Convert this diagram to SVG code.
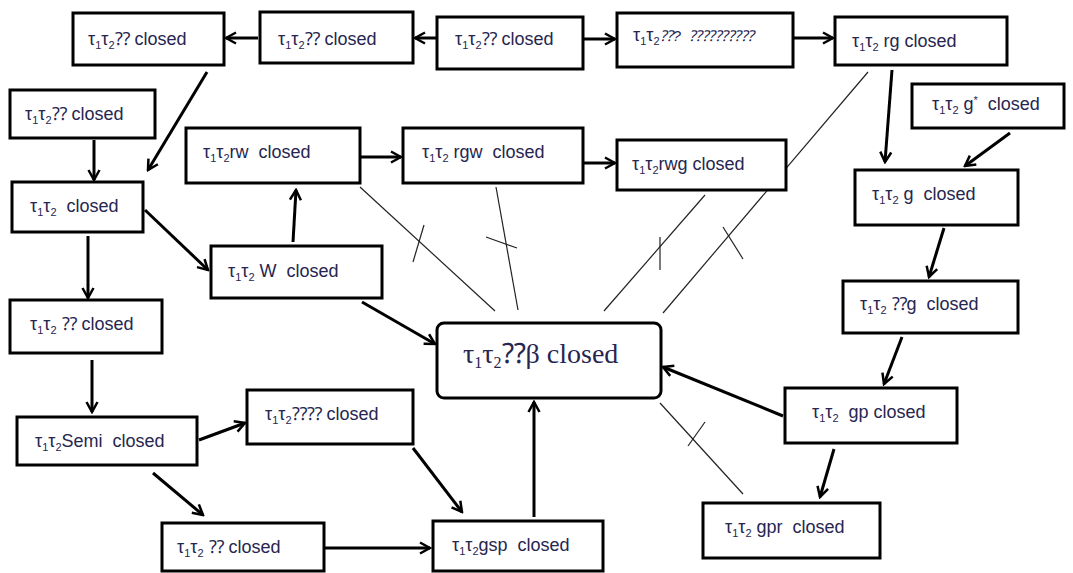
<svg xmlns="http://www.w3.org/2000/svg" width="1073" height="573" viewBox="0 0 1073 573">
<style>
.box{fill:#fff;stroke:#000;stroke-width:3}
.lbl{font-family:"Liberation Sans",Arial,sans-serif;font-size:18px;fill:#262650}
.sub{font-size:11px}
.big{font-family:"Liberation Serif","Times New Roman",serif;font-size:28px;fill:#262650}
.arr{stroke:#000;stroke-width:3;fill:none;marker-end:url(#ah)}
.thin{stroke:#222;stroke-width:1.2;fill:none}
</style>
<defs>
<marker id="ah" viewBox="0 0 14 14" refX="12" refY="7" markerWidth="14" markerHeight="14" markerUnits="userSpaceOnUse" orient="auto">
<path d="M2,1.5 L12,7 L2,12.5" fill="none" stroke="#000" stroke-width="2.5"/>
</marker>
</defs>
<rect width="1073" height="573" fill="#fff"/>

<g id="connectors">
<line class="arr" x1="258" y1="38" x2="226" y2="38"/>
<line class="arr" x1="437" y1="38" x2="415" y2="38"/>
<line class="arr" x1="583" y1="39" x2="615" y2="39"/>
<line class="arr" x1="793" y1="38" x2="833" y2="38"/>
<line class="arr" x1="207" y1="72" x2="148" y2="170"/>
<line class="arr" x1="94" y1="140" x2="94" y2="180"/>
<line class="arr" x1="145" y1="210" x2="208" y2="270"/>
<line class="arr" x1="88" y1="236" x2="88" y2="298"/>
<line class="arr" x1="293" y1="242" x2="296" y2="190"/>
<line class="arr" x1="360" y1="157" x2="401" y2="157"/>
<line class="arr" x1="583" y1="163" x2="615" y2="163"/>
<line class="arr" x1="892" y1="70" x2="885" y2="162"/>
<line class="arr" x1="1010" y1="133" x2="965" y2="166"/>
<line class="arr" x1="944" y1="228" x2="929" y2="277"/>
<line class="arr" x1="902" y1="337" x2="884" y2="384"/>
<line class="arr" x1="783" y1="416" x2="663" y2="367"/>
<line class="arr" x1="834" y1="449" x2="820" y2="497"/>
<line class="arr" x1="362" y1="302" x2="435" y2="344"/>
<line class="arr" x1="92" y1="360" x2="92" y2="412"/>
<line class="arr" x1="199" y1="440" x2="245" y2="423"/>
<line class="arr" x1="153" y1="473" x2="203" y2="515"/>
<line class="arr" x1="413" y1="448" x2="462" y2="512"/>
<line class="arr" x1="324" y1="548" x2="430" y2="548"/>
<line class="arr" x1="534" y1="517" x2="534" y2="402"/>

<line class="thin" x1="360" y1="187" x2="495" y2="311"/>
<line class="thin" x1="413" y1="262" x2="424" y2="225"/>
<line class="thin" x1="496" y1="187" x2="518" y2="310"/>
<line class="thin" x1="486" y1="237" x2="517" y2="248"/>
<line class="thin" x1="705" y1="195" x2="604" y2="311"/>
<line class="thin" x1="660" y1="237" x2="660" y2="270"/>
<line class="thin" x1="868" y1="72" x2="663" y2="313"/>
<line class="thin" x1="723" y1="227" x2="743" y2="259"/>
<line class="thin" x1="660" y1="403" x2="743" y2="494"/>
<line class="thin" x1="688" y1="446" x2="705" y2="422"/>
</g>

<g id="n1"><rect class="box" x="73" y="13" width="151" height="52"/>
<text class="lbl" x="88" y="45">τ<tspan class="sub" dy="4">1</tspan><tspan dy="-4">τ</tspan><tspan class="sub" dy="4">2</tspan><tspan dy="-4">⁇ closed</tspan></text></g>
<g id="n2"><rect class="box" x="260" y="12" width="153" height="51"/>
<text class="lbl" x="278" y="45">τ<tspan class="sub" dy="4">1</tspan><tspan dy="-4">τ</tspan><tspan class="sub" dy="4">2</tspan><tspan dy="-4">⁇ closed</tspan></text></g>
<g id="n3"><rect class="box" x="437" y="17" width="146" height="52"/>
<text class="lbl" x="455" y="45">τ<tspan class="sub" dy="4">1</tspan><tspan dy="-4">τ</tspan><tspan class="sub" dy="4">2</tspan><tspan dy="-4">⁇ closed</tspan></text></g>
<g id="n4"><rect class="box" x="617" y="13" width="176" height="54"/>
<text class="lbl" x="633" y="41">τ<tspan class="sub" dy="4">1</tspan><tspan dy="-4">τ</tspan><tspan class="sub" dy="4">2</tspan><tspan dy="-4" font-size="15" font-style="italic">⁇? &#160;⁇⁇⁇⁇⁇</tspan></text></g>
<g id="n5"><rect class="box" x="835" y="17" width="172" height="48"/>
<text class="lbl" x="852" y="47">τ<tspan class="sub" dy="4">1</tspan><tspan dy="-4">τ</tspan><tspan class="sub" dy="4">2</tspan><tspan dy="-4"> rg closed</tspan></text></g>
<g id="n6"><rect class="box" x="912" y="84" width="152" height="44"/>
<text class="lbl" x="932" y="110">τ<tspan class="sub" dy="4">1</tspan><tspan dy="-4">τ</tspan><tspan class="sub" dy="4">2</tspan><tspan dy="-4"> g</tspan><tspan class="sub" dy="-6">*</tspan><tspan dy="6">&#160; closed</tspan></text></g>
<g id="n7"><rect class="box" x="10" y="90" width="145" height="48"/>
<text class="lbl" x="25" y="120">τ<tspan class="sub" dy="4">1</tspan><tspan dy="-4">τ</tspan><tspan class="sub" dy="4">2</tspan><tspan dy="-4">⁇ closed</tspan></text></g>
<g id="n8"><rect class="box" x="12" y="182" width="131" height="50"/>
<text class="lbl" x="30" y="212">τ<tspan class="sub" dy="4">1</tspan><tspan dy="-4">τ</tspan><tspan class="sub" dy="4">2</tspan><tspan dy="-4">&#160; closed</tspan></text></g>
<g id="n9"><rect class="box" x="186" y="128" width="174" height="55"/>
<text class="lbl" x="203" y="158">τ<tspan class="sub" dy="4">1</tspan><tspan dy="-4">τ</tspan><tspan class="sub" dy="4">2</tspan><tspan dy="-4">rw &#160;closed</tspan></text></g>
<g id="n10"><rect class="box" x="403" y="128" width="180" height="55"/>
<text class="lbl" x="422" y="158">τ<tspan class="sub" dy="4">1</tspan><tspan dy="-4">τ</tspan><tspan class="sub" dy="4">2</tspan><tspan dy="-4"> rgw &#160;closed</tspan></text></g>
<g id="n11"><rect class="box" x="617" y="140" width="169" height="50"/>
<text class="lbl" x="632" y="170">τ<tspan class="sub" dy="4">1</tspan><tspan dy="-4">τ</tspan><tspan class="sub" dy="4">2</tspan><tspan dy="-4">rwg closed</tspan></text></g>
<g id="n12"><rect class="box" x="211" y="246" width="171" height="52"/>
<text class="lbl" x="228" y="277">τ<tspan class="sub" dy="4">1</tspan><tspan dy="-4">τ</tspan><tspan class="sub" dy="4">2</tspan><tspan dy="-4"> W &#160;closed</tspan></text></g>
<g id="n13"><rect class="box" x="855" y="170" width="163" height="55"/>
<text class="lbl" x="872" y="200">τ<tspan class="sub" dy="4">1</tspan><tspan dy="-4">τ</tspan><tspan class="sub" dy="4">2</tspan><tspan dy="-4"> g &#160;closed</tspan></text></g>
<g id="n14"><rect class="box" x="843" y="281" width="175" height="52"/>
<text class="lbl" x="860" y="310">τ<tspan class="sub" dy="4">1</tspan><tspan dy="-4">τ</tspan><tspan class="sub" dy="4">2</tspan><tspan dy="-4"> ⁇g &#160;closed</tspan></text></g>
<g id="n15"><rect class="box" x="437" y="323" width="224" height="75" rx="7"/>
<text class="big" x="463" y="363">τ<tspan font-size="16" dy="5">1</tspan><tspan dy="-5">τ</tspan><tspan font-size="16" dy="5">2</tspan><tspan dy="-5">⁇β closed</tspan></text></g>
<g id="n16"><rect class="box" x="10" y="300" width="152" height="53"/>
<text class="lbl" x="30" y="330">τ<tspan class="sub" dy="4">1</tspan><tspan dy="-4">τ</tspan><tspan class="sub" dy="4">2</tspan><tspan dy="-4"> ⁇ closed</tspan></text></g>
<g id="n17"><rect class="box" x="17" y="417" width="180" height="48"/>
<text class="lbl" x="35" y="447">τ<tspan class="sub" dy="4">1</tspan><tspan dy="-4">τ</tspan><tspan class="sub" dy="4">2</tspan><tspan dy="-4">Semi &#160;closed</tspan></text></g>
<g id="n18"><rect class="box" x="247" y="390" width="166" height="54"/>
<text class="lbl" x="265" y="420">τ<tspan class="sub" dy="4">1</tspan><tspan dy="-4">τ</tspan><tspan class="sub" dy="4">2</tspan><tspan dy="-4">⁇⁇ closed</tspan></text></g>
<g id="n19"><rect class="box" x="162" y="523" width="162" height="48"/>
<text class="lbl" x="177" y="553">τ<tspan class="sub" dy="4">1</tspan><tspan dy="-4">τ</tspan><tspan class="sub" dy="4">2</tspan><tspan dy="-4"> ⁇ closed</tspan></text></g>
<g id="n20"><rect class="box" x="433" y="521" width="170" height="50"/>
<text class="lbl" x="452" y="551">τ<tspan class="sub" dy="4">1</tspan><tspan dy="-4">τ</tspan><tspan class="sub" dy="4">2</tspan><tspan dy="-4">gsp &#160;closed</tspan></text></g>
<g id="n21"><rect class="box" x="785" y="388" width="172" height="55"/>
<text class="lbl" x="812" y="418">τ<tspan class="sub" dy="4">1</tspan><tspan dy="-4">τ</tspan><tspan class="sub" dy="4">2</tspan><tspan dy="-4">&#160; gp closed</tspan></text></g>
<g id="n22"><rect class="box" x="703" y="503" width="177" height="55"/>
<text class="lbl" x="725" y="533">τ<tspan class="sub" dy="4">1</tspan><tspan dy="-4">τ</tspan><tspan class="sub" dy="4">2</tspan><tspan dy="-4"> gpr &#160;closed</tspan></text></g>
</svg>
